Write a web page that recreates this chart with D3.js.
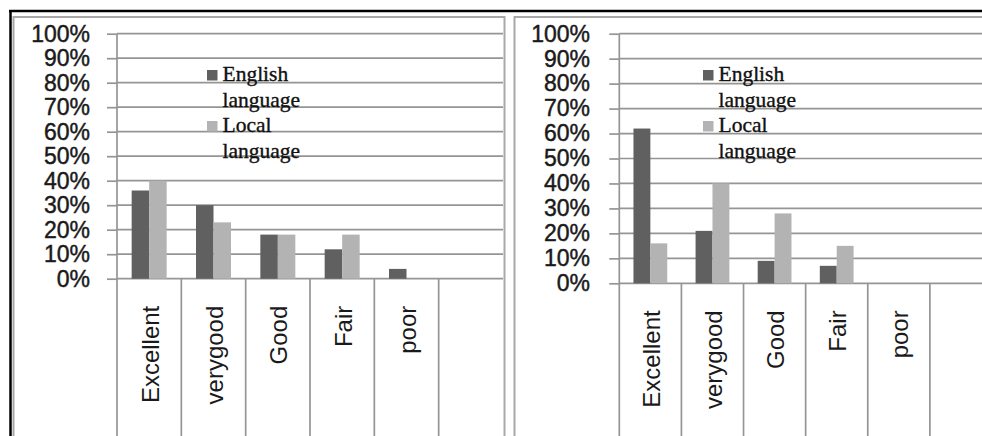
<!DOCTYPE html>
<html>
<head>
<meta charset="utf-8">
<script src="https://cdn.jsdelivr.net/npm/d3@7/dist/d3.min.js"></script>
<style>
  html, body { margin: 0; padding: 0; background: #fff; }
  svg { display: block; }
</style>
</head>
<body>
<svg id="chart" width="982" height="436"></svg>
<script>
// Ratings of the two survey groups, in percent
const categories = ["Excellent", "verygood", "Good", "Fair", "poor"];
const englishLeft = [36, 30, 18, 12, 4];
const localLeft = [40, 23, 18, 18, 0];
const englishRight = [62, 21, 9, 7, 0];
const localRight = [16, 40, 28, 15, 0];
const seriesNames = [["English", "language"], ["Local", "language"]];
const yTicks = [0, 10, 20, 30, 40, 50, 60, 70, 80, 90, 100];

const colors = ["#606060", "#b3b3b3"];
const W = 982, H = 436;

const svg = d3.select("#chart");

// outer black frame (top and left edges)
svg.append("line").attr("x1", 9).attr("x2", W).attr("y1", 11).attr("y2", 11)
  .attr("stroke", "#000").attr("stroke-width", 2.5);
svg.append("line").attr("x1", 10.5).attr("x2", 10.5).attr("y1", 10).attr("y2", H)
  .attr("stroke", "#000").attr("stroke-width", 2.5);

const panels = [
  { english: englishLeft, local: localLeft, x0: 117, x1: 503, y0: 278.7, y1: 33.7,
    labelRight: 90, box: [13.5, 17, 491, 440], legendX: 207 },
  { english: englishRight, local: localRight, x0: 619.3, x1: 992, y0: 283.3, y1: 33.7,
    labelRight: 590, box: [514.5, 17, 480, 440], legendX: 703 }
];

panels.forEach(p => {
  const g = svg.append("g");

  // panel border
  g.append("rect").attr("x", p.box[0]).attr("y", p.box[1])
    .attr("width", p.box[2]).attr("height", p.box[3])
    .attr("fill", "none").attr("stroke", "#a8a8a8").attr("stroke-width", 2);

  // one extra empty slot after the last category
  const slots = d3.range(categories.length + 1);
  const x = d3.scaleBand().domain(slots).range([p.x0, p.x1]).padding(0);
  const inner = d3.scaleBand().domain(["english", "local"])
    .range([x.bandwidth() * 0.228, x.bandwidth() * 0.772]).padding(0);
  const y = d3.scaleLinear().domain([0, 100]).range([p.y0, p.y1]);

  // horizontal gridlines
  g.append("g").selectAll("line").data(yTicks).join("line")
    .attr("x1", p.x0).attr("x2", p.x1)
    .attr("y1", d => y(d)).attr("y2", d => y(d))
    .attr("stroke", "#959595").attr("stroke-width", 1.7);

  // value axis with outside tick marks
  const yAxis = d3.axisLeft(y).tickValues(yTicks).tickFormat(d => d + "%")
    .tickSize(10).tickPadding(p.x0 - 10 - p.labelRight);
  const ya = g.append("g").attr("transform", `translate(${p.x0},0)`).call(yAxis);
  ya.select(".domain").remove();
  ya.selectAll(".tick line").attr("stroke", "#959595").attr("stroke-width", 1.7);
  ya.selectAll(".tick text")
    .attr("font-family", "'Liberation Sans', Arial, sans-serif")
    .attr("font-size", 23).attr("fill", "#1a1a1a")
    .attr("stroke", "#1a1a1a").attr("stroke-width", 0.45);

  // category separators running below the axis
  g.append("g").selectAll("line").data(slots).join("line")
    .attr("x1", d => x(d)).attr("x2", d => x(d))
    .attr("y1", d => d === 0 ? p.y1 : p.y0).attr("y2", H)
    .attr("stroke", "#959595").attr("stroke-width", 1.7);

  // bars
  const rows = categories.map((c, i) => ({ i, english: p.english[i], local: p.local[i] }));
  const grp = g.append("g").selectAll("g").data(rows).join("g")
    .attr("transform", d => `translate(${x(d.i)},0)`);
  ["english", "local"].forEach((k, si) => {
    grp.filter(d => d[k] > 0).append("rect")
      .attr("x", inner(k)).attr("width", inner.bandwidth())
      .attr("y", d => y(d[k])).attr("height", d => y(0) - y(d[k]))
      .attr("fill", colors[si]);
  });

  // rotated category labels
  g.append("g").selectAll("text").data(categories).join("text")
    .attr("transform", (d, i) => `translate(${x(i) + x.bandwidth() / 2 + 1},${p.y0 + 27}) rotate(-90)`)
    .attr("text-anchor", "end").attr("dy", "0.36em")
    .attr("font-family", "'Liberation Sans', Arial, sans-serif")
    .attr("font-size", 24).attr("fill", "#1a1a1a")
    .text(d => d);

  // legend
  const lg = g.append("g").attr("transform", `translate(${p.legendX},0)`);
  const baselines = [81, 106.5, 132, 157.5];
  seriesNames.forEach((name, si) => {
    lg.append("rect").attr("x", 0).attr("y", baselines[si * 2] - 11)
      .attr("width", 10.5).attr("height", 10.5).attr("fill", colors[si]);
    name.forEach((line, li) => {
      lg.append("text").attr("x", 15.5).attr("y", baselines[si * 2 + li])
        .attr("font-family", "'Liberation Serif', 'Times New Roman', serif")
        .attr("font-size", 21.5).attr("fill", "#111")
        .attr("stroke", "#111").attr("stroke-width", 0.35)
        .text(line);
    });
  });
});
</script>
</body>
</html>
